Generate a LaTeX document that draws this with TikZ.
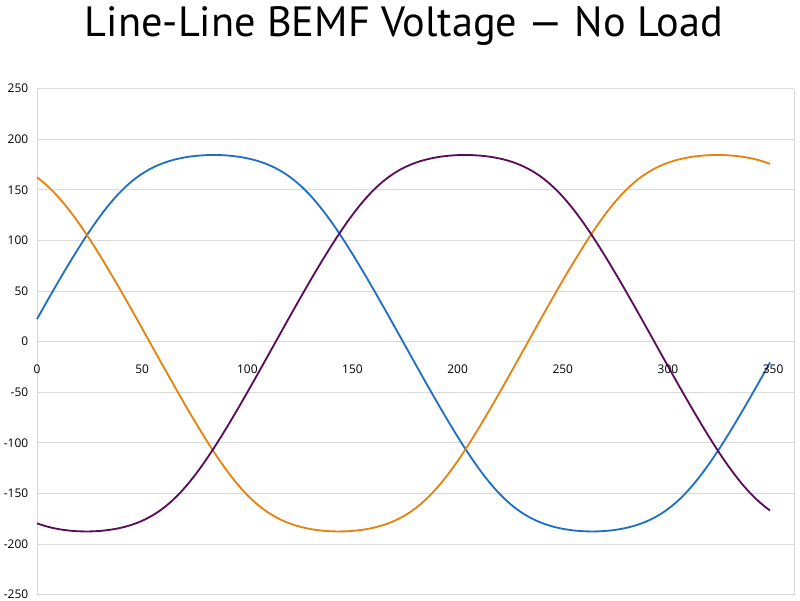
\documentclass[tikz,border=0pt]{standalone}
\usepackage{fontspec}
\usepackage{tikz}
\usetikzlibrary{positioning}
\newfontfamily\titlefont{PT Sans}
\newfontfamily\tickfont{Open Sans}
\definecolor{gridgray}{HTML}{D9D9D9}
\definecolor{phaseblue}{HTML}{1F6FC6}
\definecolor{phaseorange}{HTML}{E6820E}
\definecolor{phasepurple}{HTML}{5A0C5C}
\tikzset{
  declare function={
    sat(\u)=1.15*\u/(1+(1.0952*\u*\u)^3)^(1/6);
    bemf(\t)=(186-1.5*sin(\t))*sat(sin(\t));
  },
  gridline/.style={gridgray, line width=0.6pt},
  wave/.style={line width=1.3pt, domain=0:348.5, samples=160, smooth},
  ticklabel/.style={font=\tickfont\fontsize{8.5}{10}\selectfont, inner sep=0pt}
}

\begin{document}
\begin{tikzpicture}
\useasboundingbox (0,0) rectangle (20,15);
% Title
\node[font=\titlefont\fontsize{30.1}{36}\selectfont, anchor=base] (title) at (10.1,14.08) {Line-Line BEMF Voltage — No Load};

\begin{scope}[shift={(0.925,6.4575)}, x=0.052575cm, y=0.0253cm]
% Grid
\foreach \v in {-250,-200,...,250}
  \draw[gridline] (0,\v) -- (360,\v);
\draw[gridline] (0,-250) -- (0,250);
\draw[gridline] (360,-250) -- (360,250);

% Phase curves
\draw[wave, phaseblue] plot (\x, {bemf(\x+6)});
\draw[wave, phaseorange] plot (\x, {bemf(\x-233.5)});
\draw[wave, phasepurple] plot (\x, {bemf(\x-113.5)});

% Tick labels
\foreach \v [count=\i] in {-250,-200,...,250}
  \node[ticklabel, anchor=east] (ylab\i) at (-4.04,\v) {\v};
\foreach \u in {0,50,...,350}
  \node[ticklabel, yshift=-0.68cm] (xlab\u) at (\u,0) {\u};
\end{scope}
\end{tikzpicture}
\end{document}
